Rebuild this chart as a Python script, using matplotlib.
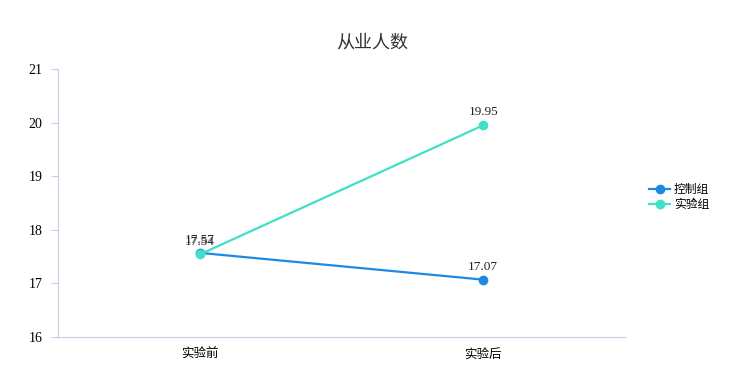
import matplotlib
matplotlib.use("Agg")
import matplotlib.pyplot as plt

plt.rcParams['font.family'] = ['Noto Sans CJK SC', 'DejaVu Sans']

categories = ["实验前", "实验后"]
control = [17.57, 17.07]
experiment = [17.54, 19.95]
yticks = [16, 17, 18, 19, 20, 21]

fig = plt.figure(figsize=(7.34, 3.65), dpi=100)
ax = fig.add_axes([58/734, 1-337/365, 567/734, 268/365])

x = list(range(len(categories)))
ax.plot(x, control, color="#1e88e5", lw=1.6, marker="o", ms=6, label="控制组", zorder=3)
ax.plot(x, experiment, color="#40e0c8", lw=1.6, marker="o", ms=6, label="实验组", zorder=4)

# value labels sit a fixed distance above each point
for series in (control, experiment):
    for xi, v in zip(x, series):
        ax.annotate(f"{v:.2f}", (xi, v), xytext=(0, 5), textcoords="offset points",
                    ha="center", va="bottom", fontsize=9.5,
                    family="Liberation Serif", color="#222222")

ax.set_xlim(-0.5, 1.5)
ax.set_ylim(16, 21)
ax.set_yticks(yticks)
ax.set_yticklabels([str(t) for t in yticks], family="Liberation Serif", fontsize=10)
ax.set_xticks(x)
ax.set_xticklabels(categories, fontsize=9)
ax.tick_params(axis="x", length=0, pad=8)
ax.tick_params(axis="y", length=5, color="#c4d0e6", pad=6)

for s in ["top", "right"]:
    ax.spines[s].set_visible(False)
for s in ["left", "bottom"]:
    ax.spines[s].set_color("#c4d0e6")

fig.text(372/734, 1-43/365, "从业人数", ha="center", va="center", fontsize=13, color="#333333")

ax.legend(loc="center left", bbox_to_anchor=(643/734, 1-197/365), bbox_transform=fig.transFigure,
          frameon=False, fontsize=8.5, handlelength=1.8, handletextpad=0.3, labelspacing=0.15,
          borderpad=0)

fig.savefig("out.png", dpi=100)
